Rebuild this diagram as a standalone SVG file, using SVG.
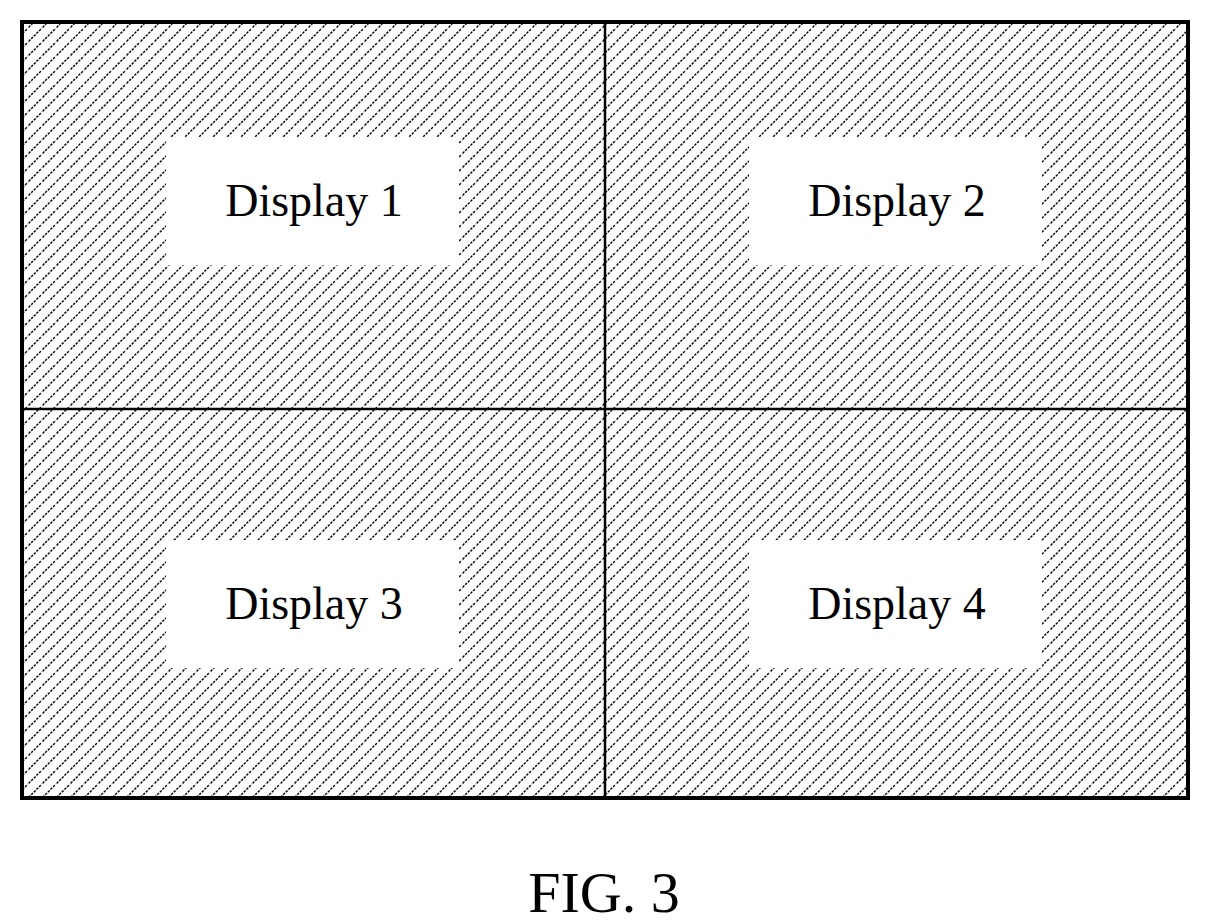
<svg xmlns="http://www.w3.org/2000/svg" width="1208" height="923" viewBox="0 0 1208 923">
<defs>
<pattern id="hatch" patternUnits="userSpaceOnUse" width="14" height="14">
<path d="M-2,16 L16,-2 M-2,2 L2,-2 M12,16 L16,12" stroke="#000" stroke-width="1.4" stroke-dasharray="2.5,1.2"/>
</pattern>
</defs>
<style>
.lbl{font-family:"Liberation Serif",serif;font-size:46px;text-anchor:middle;fill:#000}
.box{fill:#fff;stroke:none}
</style>
<rect width="1208" height="923" fill="#fff"/>
<rect x="22" y="22" width="1166" height="776" fill="url(#hatch)"/>
<g id="display1"><rect class="box" x="166" y="137" width="293" height="128"/><text class="lbl" x="314" y="216">Display 1</text></g>
<g id="display2"><rect class="box" x="749" y="137" width="293" height="128"/><text class="lbl" x="897" y="216">Display 2</text></g>
<g id="display3"><rect class="box" x="166" y="540" width="293" height="128"/><text class="lbl" x="314" y="619">Display 3</text></g>
<g id="display4"><rect class="box" x="749" y="540" width="293" height="128"/><text class="lbl" x="897" y="619">Display 4</text></g>
<g id="frame" fill="none" stroke="#000">
<rect x="22" y="22" width="1166" height="776" stroke-width="4"/>
<line x1="605" y1="22" x2="605" y2="798" stroke-width="2.5"/>
<line x1="22" y1="409" x2="1188" y2="409" stroke-width="2.5"/>
</g>
<text x="604" y="912" style="font-family:'Liberation Serif',serif;font-size:58px;text-anchor:middle">FIG. 3</text>
</svg>
